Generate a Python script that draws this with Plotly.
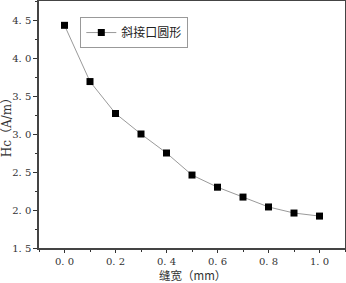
import plotly.graph_objects as go

gap_mm = [0.0, 0.1, 0.2, 0.3, 0.4, 0.5, 0.6, 0.7, 0.8, 0.9, 1.0]
hc_values = [4.43, 3.69, 3.27, 3.00, 2.75, 2.46, 2.30, 2.17, 2.04, 1.96, 1.92]
series_name = "斜接口圆形"
x_tick_vals = [0.0, 0.2, 0.4, 0.6, 0.8, 1.0]
x_tick_text = ["0. 0", "0. 2", "0. 4", "0. 6", "0. 8", "1. 0"]
y_tick_vals = [1.5, 2.0, 2.5, 3.0, 3.5, 4.0, 4.5]
y_tick_text = ["1. 5", "2. 0", "2. 5", "3. 0", "3. 5", "4. 0", "4. 5"]
x_title = "缝宽（mm）"
y_title = "Hc（A/m）"

font_main = "DejaVu Serif, Noto Sans CJK SC"

fig = go.Figure()
fig.add_trace(go.Scatter(
    x=gap_mm, y=hc_values, mode="lines+markers", name=series_name,
    line=dict(color="#9a9a9a", width=1),
    marker=dict(symbol="square", size=7, color="black"),
))

fig.add_annotation(
    text=x_title, xref="paper", yref="paper", x=0.5, y=0,
    xanchor="center", yanchor="middle", yshift=-27, showarrow=False,
    font=dict(family="Noto Sans CJK SC", size=11.5, color="#333333"),
)

fig.update_layout(
    width=346, height=283,
    margin=dict(l=39, r=1, t=1, b=35, autoexpand=False),
    paper_bgcolor="white", plot_bgcolor="white",
    font=dict(family=font_main, size=10, color="#333333"),
    showlegend=True,
    legend=dict(
        x=0.135, y=0.935, xanchor="left", yanchor="top",
        bgcolor="white", bordercolor="#999999", borderwidth=1,
        font=dict(family="Noto Sans CJK SC", size=12, color="#222222"),
        itemwidth=30, tracegroupgap=0,
    ),
    xaxis=dict(
        range=[-0.1, 1.1], tickvals=x_tick_vals, ticktext=x_tick_text,
        ticks="outside", ticklen=3, tickcolor="#333333",
        showline=True, linecolor="#444444", linewidth=1.5, mirror=True,
        showgrid=False, zeroline=False, automargin=False,
        minor=dict(dtick=0.1, tick0=0, ticks="outside", ticklen=2, tickcolor="#333333"),
    ),
    yaxis=dict(
        range=[1.5, 4.75], tickvals=y_tick_vals, ticktext=y_tick_text,
        ticks="outside", ticklen=4, tickcolor="#333333",
        showline=True, linecolor="#444444", linewidth=1.5, mirror=True,
        showgrid=False, zeroline=False, automargin=False,
        minor=dict(dtick=0.25, tick0=1.5, ticks="outside", ticklen=2, tickcolor="#333333"),
        title=dict(text=y_title, font=dict(family=font_main, size=12, color="#333333"), standoff=2),
    ),
)

fig.write_html("out.html", config={"displayModeBar": False},
               post_script="document.body.style.margin='0';")
